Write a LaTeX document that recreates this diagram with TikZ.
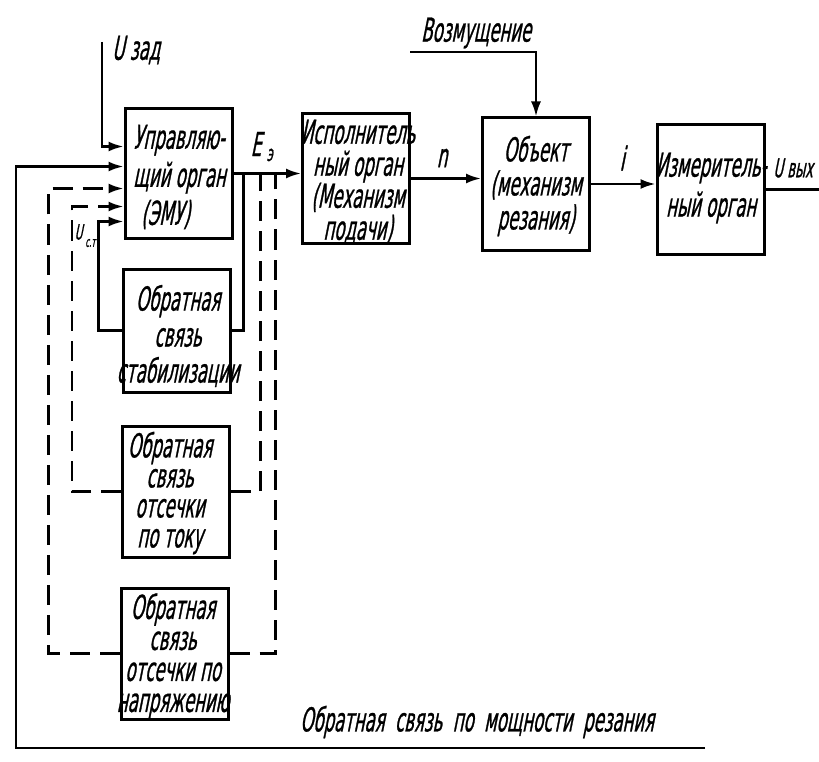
\documentclass[tikz,border=0pt]{standalone}
\usepackage{fontspec}
\setmainfont{DejaVu Sans}[FakeStretch=0.5,FakeSlant=0.2,FakeBold=0.8]
\usetikzlibrary{arrows.meta,calc}
\newcommand\lsk[1]{\fontsize{33}{#1}\selectfont}
\begin{document}
\begin{tikzpicture}[x=1pt,y=-1pt,
  box/.style={draw, line width=3pt, inner sep=0pt, minimum width=107pt, minimum height=129pt},
  txt/.style={inner sep=0pt, align=center},
  lbl/.style={inner sep=0pt, font=\lsk{30}},
  sub/.style={inner sep=0pt, font=\fontsize{22}{24}\selectfont},
  wire/.style={line width=2.4pt},
  dwire/.style={wire, dash pattern=on 20pt off 10pt},
  arr/.style={-{Latex[length=15pt,width=10pt]}},
]
\useasboundingbox (0,0) rectangle (819,762);
\clip (0,0) rectangle (819,762);

% boxes
\node[box] (A) at (178.5,173.5) {};
\node[box, minimum height=123pt] (B) at (176.5,330.5) {};
\node[box, minimum height=131pt] (D) at (176,491.5) {};
\node[box, minimum height=131pt] (E) at (174.5,653.5) {};
\node[box] (C) at (356,178.5) {};
\node[box, minimum height=132pt] (Obj) at (536,184) {};
\node[box] (M) at (710.5,189.5) {};

% box texts
\node[txt, align=left, anchor=west, font=\lsk{38}] (At) at (133,177) {Управляю-\\щий орган\\\hspace*{8pt}(ЭМУ)};
\node[txt, font=\lsk{36}] (Bt) at (178,336) {Обратная\\связь\\стабилизации};
\node[txt, font=\lsk{30}] (Dt) at (170,493) {Обратная\\связь\\отсечки\\по току};
\node[txt, font=\lsk{31}] (Et) at (173,656) {Обратная\\связь\\отсечки по\\напряжению};
\node[txt, font=\lsk{32}] (Ct) at (358,182) {Исполнитель\\ный орган\\(Механизм\\подачи)};
\node[txt, font=\lsk{34}] (Objt) at (536,186) {Объект\\(механизм\\резания)};
\node[txt, font=\lsk{40}] (Mt) at (711,188) {Измеритель-\\ный орган};

% inputs to A
\coordinate (uz) at (102,42);
\draw[wire,arr] (uz) |- ($(A.north west)+(0,39)$);
\coordinate (fbend) at (705,748);
\coordinate (fbc) at (16,748);
\draw[wire,arr] (fbend) -- (fbc) |- ($(A.north west)+(0,59)$);
\draw[dwire,arr] (E.west) -- ++(-71,0) |- ($(A.north west)+(0,81)$);
\draw[dwire,arr] (D.west) -- ++(-49,0) |- ($(A.north west)+(0,99)$);
\draw[wire,arr] (B.west) -- ++(-23,0) |- ($(A.north west)+(0,114)$);

% output of A and taps
\draw[wire,arr] (A.east) -- (A.east -| C.west);
\draw[wire] (B.east) -| ($(A.east)+(10,0)$);
\draw[dwire] (D.east) -| ($(A.east)+(27,0)$);
\draw[dwire] (E.east) -| ($(A.east)+(42,0)$);

% main chain
\draw[wire,arr] (C.east) -- (C.east -| Obj.west);
\draw[wire,arr] (Obj.east) -- (Obj.east -| M.west);
\coordinate (out) at (819,189.5);
\draw[wire] (M.east) -- (out);
\coordinate (vz) at (410,52);
\draw[wire,arr] (vz) -| (Obj.north);

% labels
\node[lbl, anchor=west] (uzl) at (112,50) {U\,зад};
\node[lbl] (el) at (256,144) {E};
\node[sub, anchor=west] (els) at ($(el.east)+(5,11)$) {э};
\node[lbl, font=\fontsize{21}{24}\selectfont] (ust) at (78.5,232) {U};
\node[sub, anchor=west, font=\fontsize{14}{16}\selectfont] (usts) at ($(ust.east)+(2.5,11)$) {с.т};
\node[lbl] (nl) at (442,158) {n};
\node[lbl] (il) at (622,158) {i};
\node[lbl, anchor=east, font=\fontsize{26}{28}\selectfont] (ul) at (813,168) {U\,вых};
\node[lbl] (vzl) at (476,33) {Возмущение};
\node[lbl] (fbl) at (477,722) {Обратная\ \ связь\ \ по\ \ мощности\ \ резания};
\end{tikzpicture}
\end{document}
